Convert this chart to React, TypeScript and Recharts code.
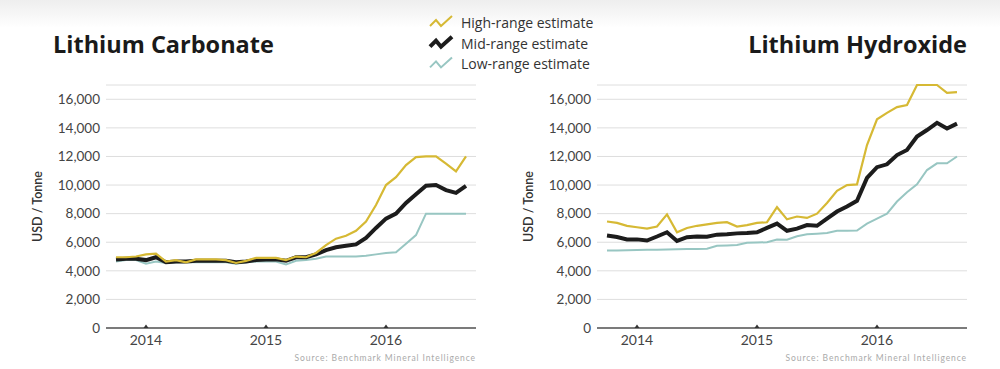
import * as React from "react";
import { LineChart, Line, XAxis, YAxis, CartesianGrid } from "recharts";

// monthly observations, Oct 2013 – Sep 2016
const months: string[] = [
  "2013-10", "2013-11", "2013-12",
  "2014-01", "2014-02", "2014-03", "2014-04", "2014-05", "2014-06",
  "2014-07", "2014-08", "2014-09", "2014-10", "2014-11", "2014-12",
  "2015-01", "2015-02", "2015-03", "2015-04", "2015-05", "2015-06",
  "2015-07", "2015-08", "2015-09", "2015-10", "2015-11", "2015-12",
  "2016-01", "2016-02", "2016-03", "2016-04", "2016-05", "2016-06",
  "2016-07", "2016-08", "2016-09"
];

const yearTicks: string[] = ["2014", "2015", "2016"];
const priceTicks: number[] = [0, 2000, 4000, 6000, 8000, 10000, 12000, 14000, 16000];

const carbonateHigh: number[] = [
  4950, 4950, 5000, 5150, 5200, 4650, 4750, 4600, 4800, 4800, 4800, 4750,
  4550, 4700, 4900, 4900, 4900, 4750, 5000, 4950, 5250, 5800, 6250, 6450,
  6800, 7450, 8600, 10000, 10550, 11400, 11950, 12000, 12000, 11500, 10950, 12000
];
const carbonateMid: number[] = [
  4800, 4850, 4850, 4750, 4950, 4600, 4650, 4650, 4700, 4700, 4700, 4700,
  4600, 4650, 4750, 4800, 4800, 4700, 4950, 4950, 5150, 5450, 5650, 5750,
  5850, 6300, 7000, 7650, 8000, 8750, 9350, 9950, 10000, 9650, 9450, 9950
];
const carbonateLow: number[] = [
  4650, 4750, 4750, 4500, 4650, 4550, 4600, 4600, 4600, 4600, 4600, 4600,
  4500, 4600, 4650, 4650, 4650, 4450, 4700, 4750, 4850, 5000, 5000, 5000,
  5000, 5050, 5150, 5250, 5300, 5900, 6500, 8000, 8000, 8000, 8000, 8000
];

const hydroxideHigh: number[] = [
  7450, 7350, 7150, 7050, 6950, 7100, 7950, 6700, 7000, 7150, 7250, 7350,
  7400, 7100, 7200, 7350, 7400, 8450, 7600, 7800, 7700, 8000, 8750, 9600,
  10000, 10050, 12800, 14600, 15050, 15450, 15600, 17000, 17000, 17000, 16450, 16500
];
const hydroxideMid: number[] = [
  6470, 6370, 6200, 6200, 6120, 6400, 6700, 6090, 6350, 6400, 6390, 6530,
  6560, 6620, 6650, 6700, 7000, 7300, 6800, 6950, 7200, 7150, 7650, 8150,
  8500, 8900, 10500, 11250, 11450, 12100, 12450, 13400, 13850, 14350, 13950, 14300
];
const hydroxideLow: number[] = [
  5420, 5430, 5440, 5450, 5470, 5480, 5500, 5510, 5520, 5530, 5550, 5750,
  5780, 5800, 5960, 5980, 6000, 6190, 6180, 6420, 6560, 6600, 6650, 6800,
  6810, 6820, 7300, 7650, 8000, 8850, 9500, 10050, 11050, 11520, 11520, 12000
];

const HIGH = "#d6b934";
const MID = "#1c1c1c";
const LOW = "#98c6c2";

const FONT = "Lato, 'Open Sans', sans-serif";
const WIDE = "'Open Sans', sans-serif";

// months since Jan 2014
const monthIndex = (s: string) => {
  const [y, m] = s.split("-").map(Number);
  return (y - 2014) * 12 + (m - 1);
};

const buildRows = (high: number[], mid: number[], low: number[]) =>
  months.map((s, i) => ({ t: monthIndex(s), high: high[i], mid: mid[i], low: low[i] }));

const YearTick = (props: any) => {
  const { x, y, payload } = props;
  return (
    <g>
      <path d={`M${x - 2.5},${y} L${x},${y - 3.5} L${x + 2.5},${y} Z`} fill="#333" />
      <text x={x} y={y + 17} textAnchor="middle" fontSize={14} fill="#444" fontFamily={FONT}>
        {yearTicks[Math.round(payload.value / 12)]}
      </text>
    </g>
  );
};

const yLabel = (offsetX: number) => (props: any) => {
  const vb = props.viewBox;
  const cx = vb.x + offsetX;
  const cy = vb.y + vb.height / 2;
  return (
    <text
      x={cx}
      y={cy}
      transform={`rotate(-90 ${cx} ${cy})`}
      textAnchor="middle"
      dominantBaseline="central"
      fontSize={12.5}
      fontWeight={600}
      fill="#333"
      fontFamily={FONT}
    >
      USD / Tonne
    </text>
  );
};

interface IPriceChartProps {
  rows: { t: number; high: number; mid: number; low: number }[];
  axisWidth: number;
  rightMargin: number;
  labelX: number;
}

const PriceChart = (props: IPriceChartProps) => (
  <LineChart
    width={490}
    height={369}
    data={props.rows}
    margin={{ top: 85, right: props.rightMargin, bottom: 0, left: 0 }}
  >
    <CartesianGrid vertical={false} stroke="#dedede" strokeWidth={1} />
    <XAxis
      dataKey="t"
      type="number"
      domain={[-4, 33]}
      ticks={[0, 12, 24]}
      height={41}
      tickLine={false}
      tickSize={0}
      tickMargin={0}
      axisLine={{ stroke: "#555", strokeWidth: 1.5 }}
      tick={<YearTick />}
    />
    <YAxis
      type="number"
      domain={[0, 17000]}
      ticks={priceTicks}
      width={props.axisWidth}
      axisLine={false}
      tickLine={false}
      tickSize={4}
      tickMargin={2}
      tick={{ fontSize: 13.5, fill: "#444", fontFamily: FONT }}
      tickFormatter={(v: number) => v.toLocaleString("en-US")}
      label={{ content: yLabel(props.labelX) }}
    />
    <Line type="linear" dataKey="low" stroke={LOW} strokeWidth={2} dot={false} isAnimationActive={false} />
    <Line type="linear" dataKey="mid" stroke={MID} strokeWidth={4} dot={false} isAnimationActive={false} />
    <Line type="linear" dataKey="high" stroke={HIGH} strokeWidth={2.2} dot={false} isAnimationActive={false} />
  </LineChart>
);

const legendItems = [
  { name: "High-range estimate", color: HIGH, width: 2 },
  { name: "Mid-range estimate", color: MID, width: 4 },
  { name: "Low-range estimate", color: LOW, width: 2 }
];

export default function App() {
  return (
    <div
      style={{
        position: "absolute",
        left: 0,
        top: 0,
        width: 1000,
        height: 369,
        background: "linear-gradient(#eeeeee 0px, #ffffff 28px)",
        overflow: "hidden"
      }}
    >
      <div style={{ position: "absolute", left: 0, top: 0 }}>
        <PriceChart rows={buildRows(carbonateHigh, carbonateMid, carbonateLow)} axisWidth={106} rightMargin={14} labelX={37} />
      </div>
      <div style={{ position: "absolute", left: 490, top: 0 }}>
        <PriceChart rows={buildRows(hydroxideHigh, hydroxideMid, hydroxideLow)} axisWidth={107} rightMargin={13} labelX={38} />
      </div>
      <svg width={1000} height={369} style={{ position: "absolute", left: 0, top: 0, pointerEvents: "none" }}>
        <text x={53} y={53} fontSize={23.5} fontWeight={700} fill="#1a1a1a" fontFamily={WIDE}>
          Lithium Carbonate
        </text>
        <text x={967} y={53} textAnchor="end" fontSize={23.5} fontWeight={700} fill="#1a1a1a" fontFamily={WIDE}>
          Lithium Hydroxide
        </text>
        {legendItems.map((item, i) => {
          const cy = 23 + i * 20.7;
          return (
            <g key={item.name}>
              <polyline
                points={`430,${cy + 3} 436,${cy - 3} 441,${cy + 3} 452,${cy - 7}`}
                fill="none"
                stroke={item.color}
                strokeWidth={item.width}
                strokeLinejoin="miter"
              />
              <text x={461} y={cy + 5} fontSize={14} fill="#333" fontFamily={WIDE}>
                {item.name}
              </text>
            </g>
          );
        })}
        <text x={476} y={361} textAnchor="end" fontSize={8.5} letterSpacing={0.9} fill="#aaa" fontFamily={FONT}>
          Source: Benchmark Mineral Intelligence
        </text>
        <text x={967} y={361} textAnchor="end" fontSize={8.5} letterSpacing={0.9} fill="#aaa" fontFamily={FONT}>
          Source: Benchmark Mineral Intelligence
        </text>
      </svg>
    </div>
  );
}
